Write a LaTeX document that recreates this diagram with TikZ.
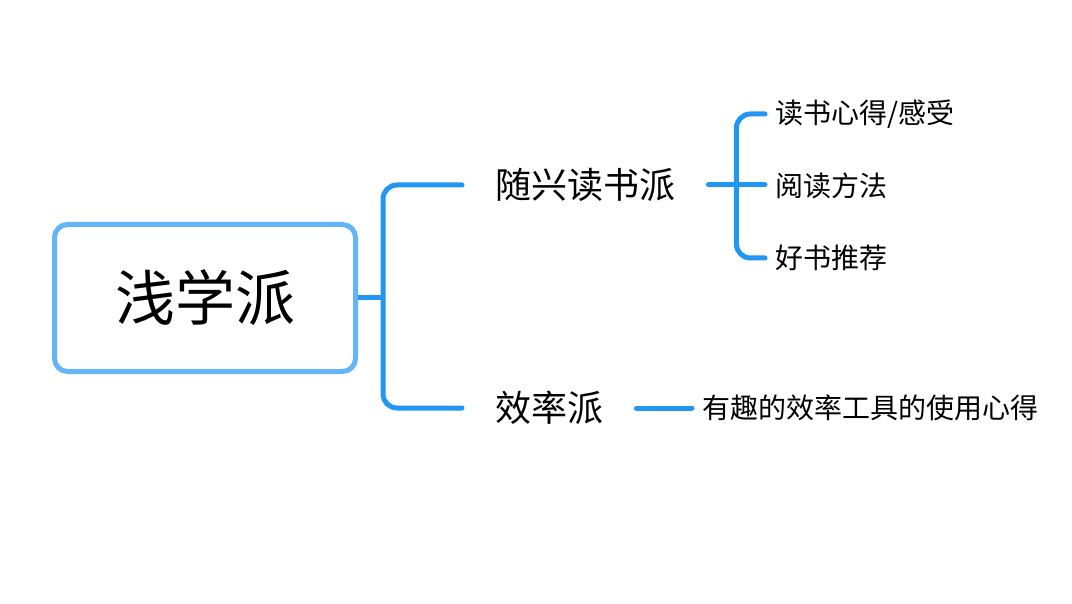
\documentclass[tikz,border=0pt]{standalone}
\usepackage{fontspec}
\usepackage{tikz}
\usepackage{xcolor}
\newfontfamily\cjk{Noto Sans CJK SC}
\definecolor{boxblue}{HTML}{64B5F6}
\definecolor{lineblue}{HTML}{2196F3}

\begin{document}
\begin{tikzpicture}[x=1pt, y=1pt,
    rootbox/.style={draw=boxblue, line width=5pt, rounded corners=13pt, fill=white,
        minimum width=301pt, minimum height=147pt, font=\cjk\fontsize{60}{66}\selectfont},
    topic/.style={anchor=west, inner xsep=33pt, inner ysep=2pt, font=\cjk\fontsize{36}{42}\selectfont},
    leaf/.style={anchor=west, inner xsep=10pt, inner ysep=2pt, font=\cjk\fontsize{28}{33}\selectfont},
    link/.style={draw=lineblue, line width=5pt, line cap=round, rounded corners=14pt}]

\useasboundingbox (0,0) rectangle (1072,-604);

% Nodes
\node[rootbox] (root) at (205,-298) {浅学派};
\node[topic] (casual) at (462,-185) {随兴读书派};
\node[topic] (effic) at (462,-408) {效率派};
\node[leaf] (notes) at (765,-114) {读书心得/感受};
\node[leaf] (method) at (765,-186) {阅读方法};
\node[leaf] (books) at (765,-258) {好书推荐};
\node[leaf] (tools) at (692,-408) {有趣的效率工具的使用心得};

% Forks
\coordinate (forkA) at ([xshift=25pt]root.east);
\coordinate (forkB) at ([xshift=28pt]casual.east);

% Connectors
\draw[link, line cap=butt] (root.east) -- (forkA);
\draw[link] (casual.west) -- (casual.west -| forkA) -- (effic.west -| forkA) -- (effic.west);
\draw[link] (casual.east) -- (casual.east -| method.west);
\draw[link] (notes.west) -- (notes.west -| forkB) -- (books.west -| forkB) -- (books.west);
\draw[link] (effic.east) -- (effic.east -| tools.west);

\end{tikzpicture}
\end{document}
